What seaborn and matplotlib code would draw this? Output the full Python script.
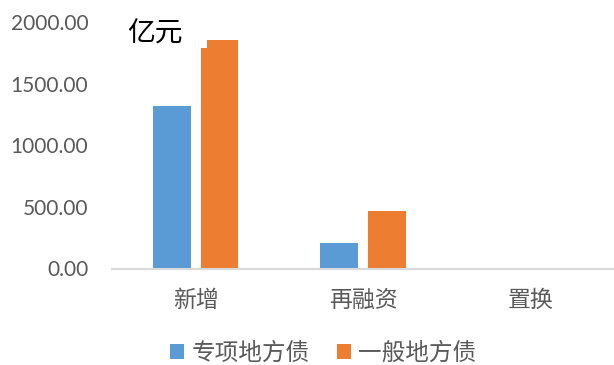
import matplotlib
matplotlib.use("Agg")
import matplotlib.pyplot as plt
import seaborn as sns
import pandas as pd
from matplotlib.patches import Rectangle

categories = ["新增", "再融资", "置换"]
series_names = ["专项地方债", "一般地方债"]
special_bond = [1320, 207, 0]
general_bond = [1855, 466, 0]
yticks = [0, 500, 1000, 1500, 2000]
unit_label = "亿元"

df = pd.DataFrame({
    "cat": categories * 2,
    "series": [series_names[0]] * 3 + [series_names[1]] * 3,
    "value": special_bond + general_bond,
})

sns.set_theme(style="white")
plt.rcParams["font.family"] = ["Lato", "Noto Sans CJK SC", "DejaVu Sans"]

W, H = 614, 365
fig = plt.figure(figsize=(W / 100, H / 100), dpi=100)
ax = fig.add_axes([112 / W, 1 - 268.5 / H, (614 - 112) / W, 246.5 / H])

palette = {series_names[0]: "#5B9BD5", series_names[1]: "#ED7D31"}
sns.barplot(data=df, x="cat", y="value", hue="series", order=categories,
            hue_order=series_names, palette=palette, width=0.571, gap=0.21,
            linewidth=0, saturation=1, ax=ax, legend=True)

ax.set_xlim(-0.5, 2.5)
ax.set_ylim(0, 2000)
ax.set_yticks(yticks)
ax.set_yticklabels([f"{v:.2f}" for v in yticks], color="#595959", fontsize=15,
                   family=["Lato", "DejaVu Sans"])
ax.set_xticks(range(len(categories)))
ax.set_xticklabels(categories, color="#595959", fontsize=16.5,
                   family=["Noto Sans CJK SC", "DejaVu Sans"])
ax.tick_params(axis="y", length=0, pad=17)
ax.tick_params(axis="x", length=0, pad=15)
ax.set_xlabel("")
ax.set_ylabel("")
for s in ["top", "right", "left"]:
    ax.spines[s].set_visible(False)
ax.spines["bottom"].set_color("#D9D9D9")
ax.spines["bottom"].set_linewidth(1.5)
ax.grid(False)

handles, labels = ax.get_legend_handles_labels()
ax.legend_.remove()
leg = fig.legend(handles, labels, loc="center", bbox_to_anchor=(0.526, 1 - 353 / H),
                 ncol=2, frameon=False, handlelength=0.6, handleheight=0.6,
                 handletextpad=0.3, columnspacing=1.15,
                 prop={"family": ["Noto Sans CJK SC"], "size": 17})
for t in leg.get_texts():
    t.set_color("#595959")

# white text box over the chart area (as in the original)
fig.add_artist(Rectangle((120 / W, 1 - 48 / H), (207 - 120) / W, (48 - 14) / H,
                         transform=fig.transFigure, facecolor="white",
                         edgecolor="none", zorder=5))
fig.text(127 / W, 1 - 34 / H, unit_label, fontsize=20, color="#000000",
         va="center", ha="left", family=["Noto Sans CJK SC"], zorder=6)

fig.savefig("out.png", dpi=100)
